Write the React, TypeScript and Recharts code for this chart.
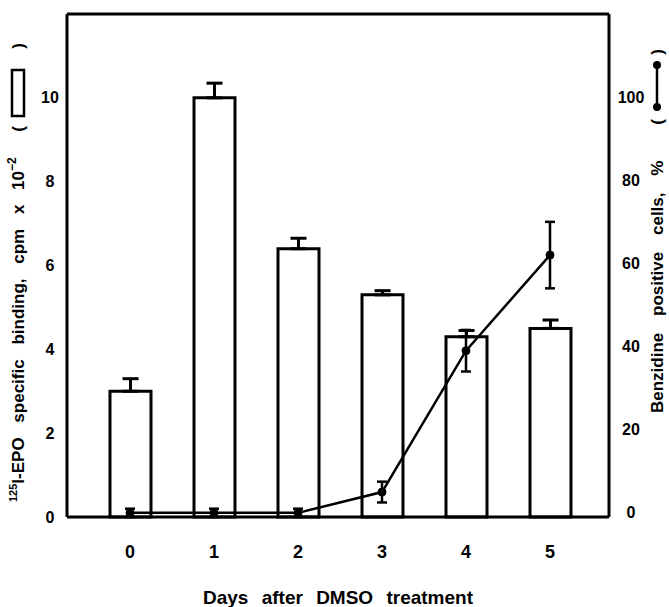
import {
  ComposedChart,
  Bar,
  Line,
  ErrorBar,
  XAxis,
  YAxis,
  ReferenceLine,
} from 'recharts'

const days = ['0', '1', '2', '3', '4', '5']
const binding = [3.0, 10.0, 6.4, 5.3, 4.3, 4.5]
const bindingErr = [0.3, 0.35, 0.25, 0.1, 0.15, 0.2]
const positive = [0, 0, 0, 5, 39, 62]
const positiveErr = [1, 1, 1, 2.5, 5, 8]
const leftTicks = [0, 2, 4, 6, 8, 10]
const rightTicks = [0, 20, 40, 60, 80, 100]

const data = days.map((day, i) => ({
  day,
  binding: binding[i],
  bindingErr: [0, bindingErr[i]],
  positive: positive[i],
  positiveErr: positiveErr[i],
}))

const FONT = '"Liberation Sans", Arial, sans-serif'
const INK = '#000'

function SideTick({ x, y, payload }: { x?: number; y?: number; payload?: { value: number } }) {
  return (
    <text
      x={x}
      y={y}
      textAnchor="middle"
      dominantBaseline="central"
      fontFamily={FONT}
      fontWeight="bold"
      fontSize={16}
      fill={INK}
    >
      {payload?.value}
    </text>
  )
}

// left title: reads bottom to top, with the open-bar key on top
function LeftTitle({ viewBox }: { viewBox?: { x: number; y: number; width: number; height: number } }) {
  if (!viewBox) return null
  const cx = viewBox.x + 18
  const top = viewBox.y
  return (
    <g fontFamily={FONT} fontWeight="bold" fill={INK}>
      <text
        transform={`translate(${cx}, ${top + 488}) rotate(-90)`}
        textAnchor="start"
        dominantBaseline="central"
        fontSize={17}
        wordSpacing={10}
      >
        <tspan fontSize={11} dy={-5}>125</tspan>
        <tspan dy={5}>I-EPO specific binding, cpm x 10</tspan>
        <tspan fontSize={12} dy={-6}>{'\u22122'}</tspan>
      </text>
      <text transform={`translate(${cx}, ${top + 115}) rotate(-90)`} textAnchor="middle" dominantBaseline="central" fontSize={17}>(</text>
      <rect x={cx - 6} y={top + 56} width={12} height={46} fill="none" stroke={INK} strokeWidth={2.5} />
      <text transform={`translate(${cx}, ${top + 32}) rotate(-90)`} textAnchor="middle" dominantBaseline="central" fontSize={17}>)</text>
    </g>
  )
}

// right title: same reading direction, with the dot-line key on top
function RightTitle({ viewBox }: { viewBox?: { x: number; y: number; width: number; height: number } }) {
  if (!viewBox) return null
  const cx = viewBox.x + 48
  const top = viewBox.y
  return (
    <g fontFamily={FONT} fontWeight="bold" fill={INK}>
      <text
        transform={`translate(${cx}, ${top + 399}) rotate(-90)`}
        textAnchor="start"
        dominantBaseline="central"
        fontSize={17}
        wordSpacing={12}
      >
        Benzidine positive cells, %
      </text>
      <text transform={`translate(${cx}, ${top + 108}) rotate(-90)`} textAnchor="middle" dominantBaseline="central" fontSize={17}>(</text>
      <line x1={cx} x2={cx} y1={top + 51} y2={top + 93} stroke={INK} strokeWidth={2.5} />
      <circle cx={cx} cy={top + 51} r={4} fill={INK} />
      <circle cx={cx} cy={top + 93} r={4} fill={INK} />
      <text transform={`translate(${cx}, ${top + 38}) rotate(-90)`} textAnchor="middle" dominantBaseline="central" fontSize={17}>)</text>
    </g>
  )
}

export default function App() {
  return (
    <div style={{ position: 'absolute', left: 0, top: 0, background: '#fff' }}>
      <ComposedChart
        width={669}
        height={607}
        data={data}
        margin={{ top: 14, right: 0, bottom: 0, left: 0 }}
      >
        <XAxis
          dataKey="day"
          height={90}
          padding={{ left: 21, right: 17 }}
          tickLine={false}
          tickSize={0}
          tickMargin={28}
          axisLine={{ stroke: INK, strokeWidth: 3 }}
          tick={{ fill: INK, fontSize: 18, fontWeight: 'bold', fontFamily: FONT }}
          label={{
            value: 'Days after DMSO treatment',
            position: 'insideBottom',
            offset: 3,
            fill: INK,
            fontSize: 19,
            fontWeight: 'bold',
            fontFamily: FONT,
            wordSpacing: 8,
          }}
        />
        <YAxis
          yAxisId="left"
          width={67}
          domain={[0, 12]}
          ticks={leftTicks}
          tickLine={false}
          tickSize={0}
          tickMargin={17}
          axisLine={{ stroke: INK, strokeWidth: 3 }}
          tick={<SideTick />}
          label={{ content: (p: any) => <LeftTitle viewBox={p.viewBox} /> }}
        />
        <YAxis
          yAxisId="right"
          orientation="right"
          width={60}
          domain={[0, 120]}
          ticks={rightTicks}
          tickLine={false}
          tickSize={0}
          tickMargin={22}
          axisLine={{ stroke: INK, strokeWidth: 3 }}
          tick={<SideTick />}
          label={{ content: (p: any) => <RightTitle viewBox={p.viewBox} /> }}
        />
        {/* top edge of the frame */}
        <ReferenceLine yAxisId="left" y={12} stroke={INK} strokeWidth={3} />
        <Bar
          yAxisId="left"
          dataKey="binding"
          fill="#fff"
          stroke={INK}
          strokeWidth={3}
          barSize={41}
          isAnimationActive={false}
        >
          <ErrorBar dataKey="bindingErr" width={8} stroke={INK} strokeWidth={3} direction="y" />
        </Bar>
        <Line
          yAxisId="right"
          dataKey="positive"
          stroke={INK}
          strokeWidth={2.5}
          dot={{ r: 4, fill: INK, stroke: INK, strokeWidth: 1 }}
          isAnimationActive={false}
        >
          <ErrorBar dataKey="positiveErr" width={5} stroke={INK} strokeWidth={2.5} direction="y" />
        </Line>
      </ComposedChart>
    </div>
  )
}
